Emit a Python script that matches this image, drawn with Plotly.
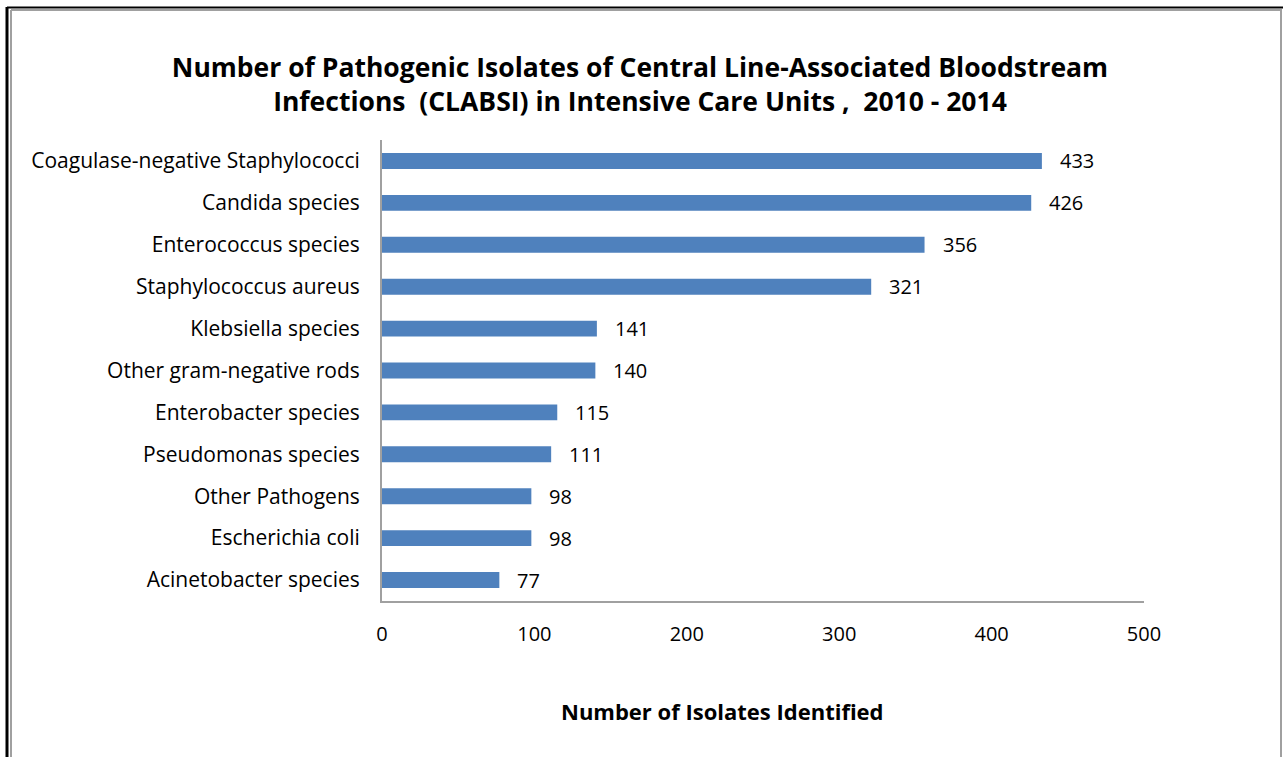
import plotly.graph_objects as go

categories = ["Coagulase-negative Staphylococci", "Candida species", "Enterococcus species",
              "Staphylococcus aureus", "Klebsiella species", "Other gram-negative rods",
              "Enterobacter species", "Pseudomonas species", "Other Pathogens",
              "Escherichia coli", "Acinetobacter species"]
values = [433, 426, 356, 321, 141, 140, 115, 111, 98, 98, 77]
x_ticks = [0, 100, 200, 300, 400, 500]

W, H = 1286, 757
L, R, T, B = 382, 1144, 140, 601
pw, ph = R - L, B - T

def px(x):
    return (x - L) / pw

def py(y):
    return (B - y) / ph

FONT = "'Open Sans', sans-serif"
FS = 21

cats_r = categories[::-1]
vals_r = values[::-1]

fig = go.Figure(go.Bar(
    x=vals_r, y=cats_r, orientation="h",
    marker=dict(color="#4F81BD", line=dict(width=0)),
    width=0.38,
))

shapes = [
    dict(type="line", xref="paper", yref="paper", x0=px(7), x1=px(7), y0=py(7), y1=py(760),
         line=dict(color="#000000", width=3)),
    dict(type="line", xref="paper", yref="paper", x0=px(7), x1=px(1283), y0=py(7.5), y1=py(7.5),
         line=dict(color="#000000", width=2)),
    dict(type="line", xref="paper", yref="paper", x0=px(11), x1=px(11), y0=py(10), y1=py(760),
         line=dict(color="#A0A0A0", width=2)),
    dict(type="line", xref="paper", yref="paper", x0=px(11), x1=px(1281), y0=py(10), y1=py(10),
         line=dict(color="#A0A0A0", width=2)),
    dict(type="line", xref="paper", yref="paper", x0=px(1281), x1=px(1281), y0=py(9), y1=py(760),
         line=dict(color="#A0A0A0", width=2)),
]

annotations = [dict(text=str(v), x=v, y=c, xref="x", yref="y", xanchor="left", yanchor="middle",
                    xshift=16, showarrow=False, font=dict(size=20, family=FONT, color="#000000"))
               for v, c in zip(vals_r, cats_r)]
annotations.append(dict(text="<b>Number of Isolates Identified</b>", xref="paper", yref="paper",
                        x=px(722), y=py(711), xanchor="center", yanchor="middle", showarrow=False,
                        font=dict(size=22, family=FONT, color="#000000")))

fig.update_layout(
    width=W, height=H,
    margin=dict(l=L, r=W - R, t=T, b=H - B, pad=0),
    paper_bgcolor="white", plot_bgcolor="white",
    showlegend=False,
    font=dict(family=FONT, size=FS, color="#000000"),
    title=dict(
        text="Number of Pathogenic Isolates of Central Line-Associated Bloodstream<br>Infections  (CLABSI) in Intensive Care Units ,  2010 - 2014",
        x=640 / W, xanchor="center", y=1 - 77 / H, yanchor="middle",
        font=dict(family=FONT, size=26.5, color="#000000", weight="bold"),
    ),
    xaxis=dict(range=[0, 500], tickvals=x_ticks, ticktext=[str(t) for t in x_ticks],
               showgrid=False, zeroline=False, showline=True, linecolor="#A0A0A0", linewidth=2,
               ticks="", ticklabelstandoff=14, tickfont=dict(size=20)),
    yaxis=dict(showgrid=False, zeroline=False, showline=True, linecolor="#A0A0A0", linewidth=2,
               ticks="", ticklabelstandoff=16, tickfont=dict(size=FS),
               range=[-0.5, len(categories) - 0.5]),
    shapes=shapes,
    annotations=annotations,
)

fig.write_html("out.html", config={"displayModeBar": False},
               post_script="document.body.style.margin='0';document.body.style.overflow='hidden';")
